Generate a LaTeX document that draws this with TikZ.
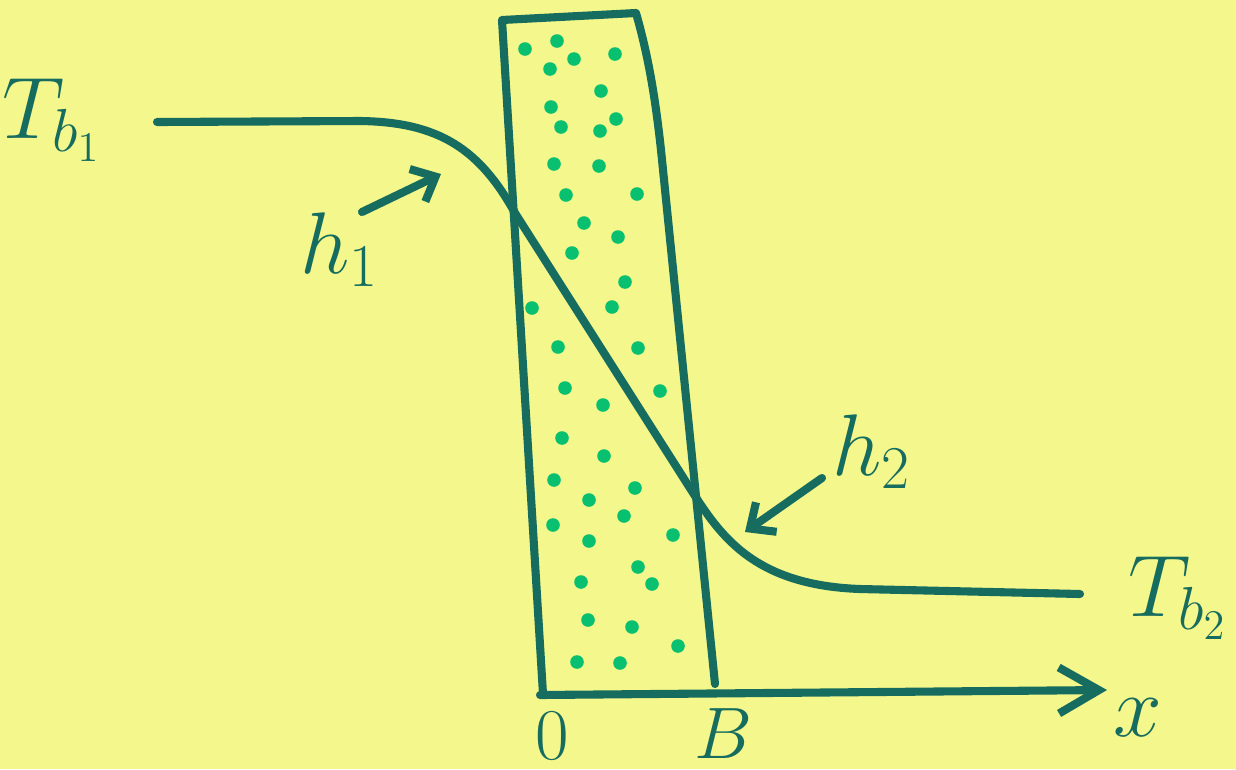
\documentclass[tikz,border=0pt]{standalone}
\usepackage{amsmath}
\usepackage{xcolor}
\usepackage{tikz}
\usetikzlibrary{arrows.meta}

\definecolor{paper}{RGB}{244,248,140}
\definecolor{ink}{RGB}{22,108,94}
\definecolor{dotgreen}{RGB}{8,192,112}

\begin{document}
\begin{tikzpicture}[x=0.01cm, y=-0.01cm,
  marker/.style={ink, line width=2.3pt, line cap=round, line join=round},
  pointer/.style={marker, -{Straight Barb[length=2mm, width=3.6mm]}},
  lbl/.style={ink, inner sep=0pt, font=\fontsize{26}{30}\selectfont},
  tick/.style={ink, inner sep=0pt, font=\fontsize{20}{24}\selectfont}]
% Coordinates are in pixels of the 1236 x 769 sheet, y pointing down.
\def\dotr{0.68mm} % radius of the filler dots

% --- Paper ---
\fill[paper] (0,0) rectangle (1236,769);
\useasboundingbox (0,0) rectangle (1236,769);

% --- Slab (0 <= x <= B) ---
\coordinate (slabTL) at (502,20);
\coordinate (slabTR) at (636,13);
\coordinate (slabKink) at (661,150);
\coordinate (slabBL) at (543,694);
\coordinate (slabBR) at (715,684);
\draw[marker] (slabBL) -- (slabTL) -- (slabTR)
  .. controls (648,55) and (655,95) .. (slabKink) -- (slabBR);

% --- filler dots ---
\foreach \px/\py in {525/49, 557/41, 574/59, 615/54, 550/69, 601/91, 551/107,
    616/119, 561/127, 600/131, 554/164, 599/166, 566/195, 637/194, 584/223,
    618/237, 572/253, 625/282, 532/308, 612/307, 558/347, 638/348,
    565/388, 660/391, 603/405, 562/438, 604/456, 554/480, 635/488, 589/500,
    624/516, 553/525, 673/535, 589/541, 638/567, 581/582, 652/584, 588/620,
    632/627, 678/646, 577/662, 620/663}
  \fill[dotgreen] (\px,\py) circle[radius=\dotr];

% --- x axis ---
\coordinate (origin) at (540,695);
\coordinate (axisEnd) at (1107,690);
\draw[marker, -{Straight Barb[length=4mm, width=4.6mm]}] (origin) -- (axisEnd);
\node[tick] (zero) at (552,736) {$0$};
\node[tick] (bnd) at (723,734) {$B$};
\node[lbl, font=\fontsize{30}{34}\selectfont] (xlab) at (1138,718) {$x$};

% --- Temperature profile ---
\coordinate (prof0) at (157,122);
\coordinate (prof1) at (360,121);
\coordinate (wallL) at (515,213);
\coordinate (wallR) at (688,485);
\coordinate (prof2) at (860,589);
\coordinate (prof3) at (1080,594);
\draw[marker] (prof0) -- (prof1)
  .. controls (440,122) and (480,150) .. (wallL) -- (wallR)
  .. controls (718,532) and (750,585) .. (prof2) -- (prof3);

% --- bulk temperatures ---
\node[lbl, font=\fontsize{25}{29}\selectfont] (tbone) at (52,120) {$T_{b_1}$};
\node[lbl, font=\fontsize{25}{29}\selectfont] (tbtwo) at (1178,598) {$T_{b_2}$};

% --- film coefficients ---
\node[lbl] (hone) at (340,250) {$h_1$};
\node[lbl] (htwo) at (872,452) {$h_2$};
\coordinate (honeTail) at (362,212);
\coordinate (honeTip) at (441,174);
\coordinate (htwoTail) at (822,478);
\coordinate (htwoTip) at (745,532);
\draw[pointer] (honeTail) -- (honeTip);
\draw[pointer] (htwoTail) -- (htwoTip);
\end{tikzpicture}
\end{document}
